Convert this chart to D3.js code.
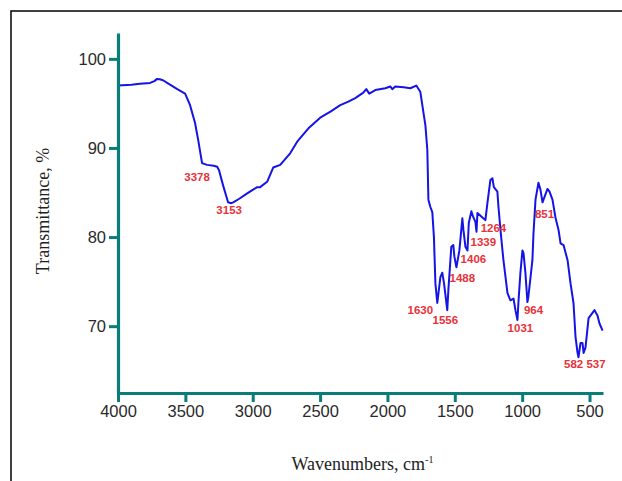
<!DOCTYPE html>
<html>
<head>
<meta charset="utf-8">
<script src="https://cdn.jsdelivr.net/npm/d3@7/dist/d3.min.js"></script>
<style>
html,body{margin:0;padding:0;background:#fff;}
svg{display:block;}
</style>
</head>
<body>
<svg id="chart" width="622" height="481"></svg>
<script>
// ---- data ----
const wavenumbers = [4000,3900,3837,3762,3730,3710,3690,3666,3614,3560,3502,3465,3428,3405,3376,3339,3290,3264,3250,3220,3183,3160,3145,3100,3041,3000,2967,2945,2893,2848,2796,2722,2670,2648,2580,2499,2420,2350,2290,2239,2179,2157,2135,2090,2016,1979,1964,1942,1880,1830,1786,1756,1718,1704,1696,1682,1667,1655,1644,1630,1607,1593,1580,1556,1548,1526,1511,1503,1488,1466,1444,1436,1421,1406,1396,1377,1362,1347,1339,1332,1295,1273,1258,1236,1221,1210,1184,1176,1161,1139,1109,1087,1064,1050,1035,1028,1013,998,990,976,961,954,924,916,901,879,864,849,834,812,797,775,753,730,715,693,663,641,619,604,589,582,567,552,544,530,507,478,463,441,426,403];
const transmittance = [97.0,97.1,97.2,97.3,97.5,97.75,97.7,97.6,97.1,96.6,96.1,94.8,92.8,90.9,88.3,88.1,88.0,87.9,87.5,85.8,83.9,83.8,83.9,84.3,84.9,85.3,85.6,85.6,86.2,87.8,88.1,89.4,90.7,91.1,92.3,93.4,94.1,94.8,95.2,95.6,96.2,96.6,96.1,96.5,96.7,96.9,96.6,96.9,96.8,96.7,97.0,96.3,92.5,89.8,84.2,83.4,82.8,80.0,74.8,72.6,75.5,76.0,74.8,71.8,74.0,78.9,79.1,77.8,76.6,78.5,82.1,80.8,78.9,78.5,81.6,82.9,82.2,81.7,80.6,82.7,82.2,81.9,83.8,86.4,86.6,85.6,85.1,83.4,80.8,77.4,73.7,72.9,73.1,71.8,70.7,72.6,76.0,78.5,78.2,76.0,72.7,73.3,77.4,80.4,84.2,86.1,85.3,83.9,84.5,85.4,85.1,84.2,82.2,80.8,79.3,79.1,77.4,74.8,72.6,68.8,67.0,66.5,68.1,68.1,67.0,67.6,70.9,71.5,71.8,71.2,70.3,69.5];

const xTicks = [4000,3500,3000,2500,2000,1500,1000,500];
const yTicks = [70,80,90,100];

const peakLabels = ["3378","3153","1630","1556","1488","1406","1339","1264","851","1031","964","582","537"];
const peakLabelX = [3413,3175,1756,1570,1444,1362,1288,1213,834,1013,916,618,452];
const peakLabelY = [86.7,83.0,71.8,70.7,75.4,77.5,79.4,81.0,82.6,69.8,71.8,65.8,65.8];

const xTitle = "Wavenumbers, cm";
const xTitleSup = "-1";
const yTitle = "Transmittance, %";

(function(){
// ---- layout ----
const svg = d3.select("#chart");
const mLeft = 118, mTop = 33, mRight = 603, mBottom = 393;
const teal = "#0a7d78";

// frame
svg.append("rect").attr("x",11).attr("y",11).attr("width",640).attr("height",500)
  .attr("fill","none").attr("stroke","#111").attr("stroke-width",1.6);

const x = d3.scaleLinear().domain([4000,400]).range([mLeft,mRight]);
const y = d3.scaleLinear().domain([62.5,102.9]).range([mBottom,mTop]);

// spectrum
const pts = wavenumbers.map((w,i)=>[w,transmittance[i]]);
svg.append("path").datum(pts)
  .attr("fill","none").attr("stroke","#1414e6").attr("stroke-width",2)
  .attr("stroke-linejoin","round")
  .attr("d", d3.line().x(d=>x(d[0])).y(d=>y(d[1])));

// axes
const xAxis = svg.append("g").attr("transform",`translate(0,${mBottom})`)
  .call(d3.axisBottom(x).tickValues(xTicks).tickFormat(d3.format("d")).tickSize(9).tickSizeOuter(0).tickPadding(3));
const yAxis = svg.append("g").attr("transform",`translate(${mLeft},0)`)
  .call(d3.axisLeft(y).tickValues(yTicks).tickFormat(d3.format("d")).tickSize(9).tickSizeOuter(0).tickPadding(3));

[xAxis,yAxis].forEach(g=>{
  g.select(".domain").attr("stroke",teal).attr("stroke-width",3.2);
  g.selectAll(".tick line").attr("stroke",teal).attr("stroke-width",3);
  g.selectAll(".tick text").attr("fill","#2a2a2a")
    .style("font-family","Arial, 'Liberation Sans', sans-serif").style("font-size","16.5px");
});

// peak labels
svg.append("g").selectAll("text").data(peakLabels).join("text")
  .attr("x",(d,i)=>x(peakLabelX[i]))
  .attr("y",(d,i)=>y(peakLabelY[i]))
  .attr("dy","0.35em")
  .attr("text-anchor","middle")
  .attr("fill","#e8323a")
  .style("font-family","Arial, 'Liberation Sans', sans-serif")
  .style("font-size","11.5px").style("font-weight","bold")
  .text(d=>d);

// titles
const xt = svg.append("text").attr("x",(mLeft+mRight)/2+2).attr("y",470)
  .attr("text-anchor","middle").attr("fill","#222")
  .style("font-family","'Times New Roman','Liberation Serif',serif").style("font-size","18px");
xt.append("tspan").text(xTitle);
xt.append("tspan").attr("dy","-7").style("font-size","10px").text(xTitleSup);

svg.append("text").attr("transform",`translate(49,211) rotate(-90)`)
  .attr("text-anchor","middle").attr("fill","#222")
  .style("font-family","'Times New Roman','Liberation Serif',serif").style("font-size","18px")
  .text(yTitle);
})();
</script>
</body>
</html>
